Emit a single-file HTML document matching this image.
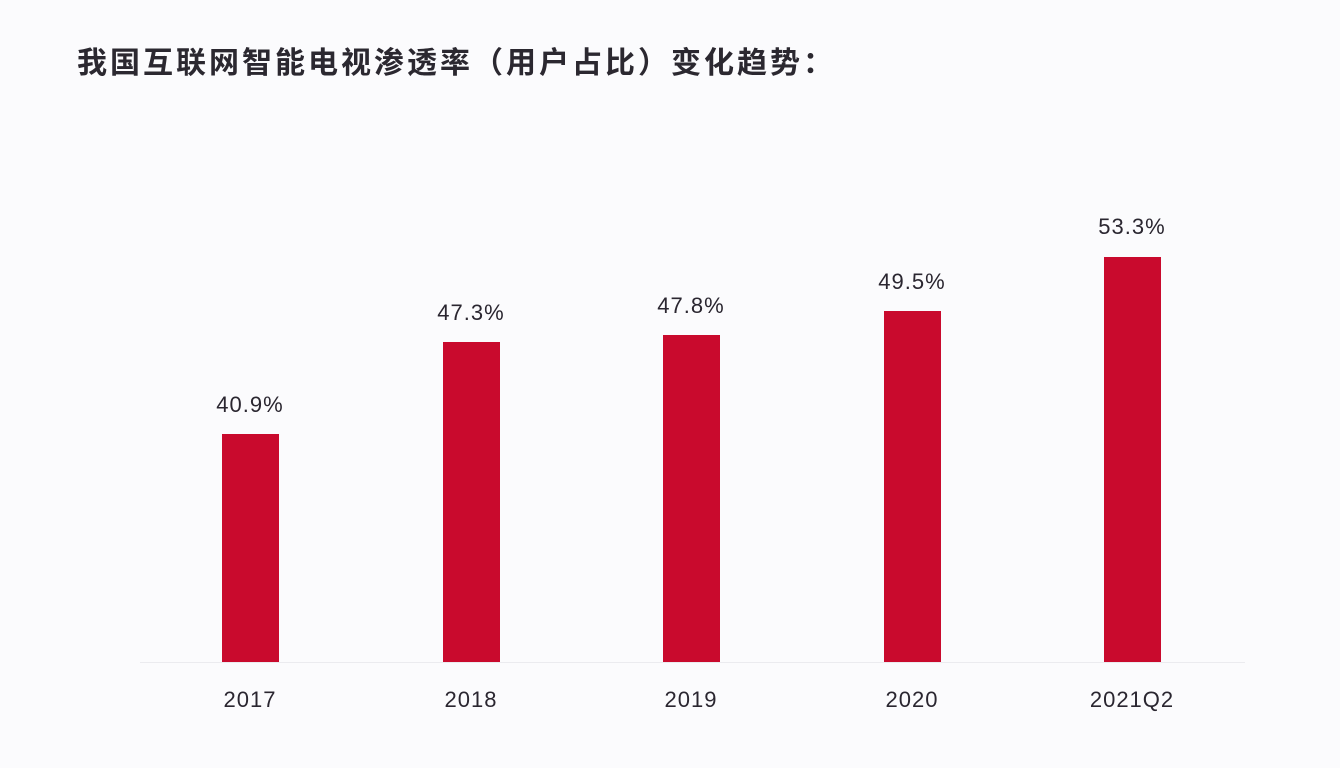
<!DOCTYPE html>
<html><head><meta charset="utf-8"><style>
body{margin:0;width:1340px;height:768px;background:#fbfbfd;position:relative;overflow:hidden;font-family:"Liberation Sans","Noto Sans CJK SC",sans-serif;color:#222}
.t{position:absolute;left:77px;top:38px;font-size:30px;font-weight:bold;letter-spacing:3px;color:#2b2830;white-space:nowrap;font-family:"Noto Sans CJK SC",sans-serif}
.b{position:absolute;width:57px;background:#c90a2d;bottom:106px}
.l,.y{position:absolute;width:160px;text-align:center;font-size:22px;color:#2a2630;letter-spacing:1px}
.ax{position:absolute;left:140px;width:1105px;top:662px;height:1px;background:#ebebef}
</style></head><body>
<div class="t">我国互联网智能电视渗透率（用户占比）变化趋势：</div>
<div class="ax"></div>
<div class="b" style="left:222px;top:434px"></div>
<div class="b" style="left:443px;top:342px"></div>
<div class="b" style="left:663px;top:335px"></div>
<div class="b" style="left:884px;top:311px"></div>
<div class="b" style="left:1104px;top:257px"></div>
<div class="l" style="left:170px;top:392px">40.9%</div>
<div class="l" style="left:391px;top:300px">47.3%</div>
<div class="l" style="left:611px;top:293px">47.8%</div>
<div class="l" style="left:832px;top:269px">49.5%</div>
<div class="l" style="left:1052px;top:214px">53.3%</div>
<div class="y" style="left:170px;top:687px">2017</div>
<div class="y" style="left:391px;top:687px">2018</div>
<div class="y" style="left:611px;top:687px">2019</div>
<div class="y" style="left:832px;top:687px">2020</div>
<div class="y" style="left:1052px;top:687px">2021Q2</div>
</body></html>
